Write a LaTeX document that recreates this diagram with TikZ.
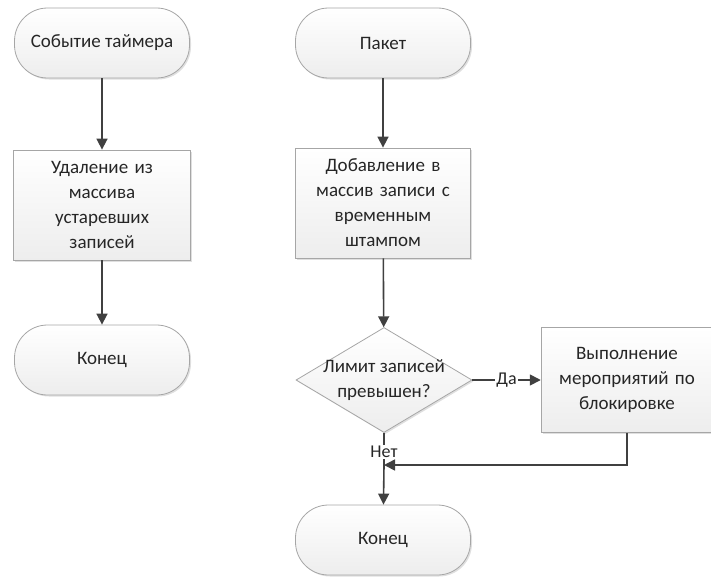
\documentclass[tikz,border=0pt]{standalone}
\usepackage{fontspec}
\setmainfont{Carlito}
\usetikzlibrary{shapes.geometric,shadows,arrows.meta}
\definecolor{edgegray}{HTML}{A6A6A6}
\definecolor{linegray}{HTML}{404040}
\definecolor{txtgray}{HTML}{262626}
\tikzset{
  x=1pt, y=-1pt,
  shapebase/.style={draw=edgegray, line width=0.8pt, top color=white, bottom color=black!7,
    text=txtgray, font=\fontsize{19}{25}\selectfont, align=center,
    drop shadow={shadow xshift=1.5pt, shadow yshift=-1.5pt, opacity=0.25}},
  term/.style={shapebase, rounded corners=33pt, minimum width=175pt, minimum height=70pt},
  procbox/.style={shapebase, minimum width=177pt, minimum height=110pt, text width=165pt},
  decide/.style={shapebase, diamond, aspect=1.7, minimum width=176pt, minimum height=105pt, inner sep=0pt},
  flow/.style={draw=linegray, line width=1.6pt, -{Triangle[length=11pt,width=11pt]}},
  lbl/.style={text=txtgray, font=\fontsize{18}{20}\selectfont, fill=white, inner sep=1pt}
}
\begin{document}
\begin{tikzpicture}
\useasboundingbox (0,0) rectangle (711,578);
% left branch: timer
\node[term] (timer) at (102,43) {Событие таймера};
\node[procbox] (purge) at (102,205) {Удаление из\\массива\\устаревших\\записей};
\node[term] (endA) at (102,360) {Конец};
\draw[flow] (timer) -- (purge);
\draw[flow] (purge) -- (endA);
% right branch: packet
\node[term] (pkt) at (383,43) {Пакет};
\node[procbox, minimum width=175pt] (add) at (383,203) {Добавление в\\массив записи с\\временным\\штампом};
\node[decide] (lim) at (384,380) {};
\node[text=txtgray, font=\fontsize{19}{25}\selectfont, align=center] (limtxt) at (384,380) {Лимит записей\\превышен?};
\node[procbox, minimum width=167pt, minimum height=105pt] (block) at (627,380) {Выполнение\\мероприятий по\\блокировке};
\node[term] (endB) at (383,540) {Конец};
\coordinate (join) at (384,465);
\draw[flow] (pkt) -- (add);
\draw[flow] (add) -- (lim);
\draw[flow] (lim) -- node[lbl] {Да} (block);
\draw[draw=linegray, line width=1.6pt] (lim) -- node[lbl, pos=0.6] {Нет} (join);
\draw[flow] (join) -- (endB);
\draw[flow] (block.south) |- (join);
\end{tikzpicture}
\end{document}
